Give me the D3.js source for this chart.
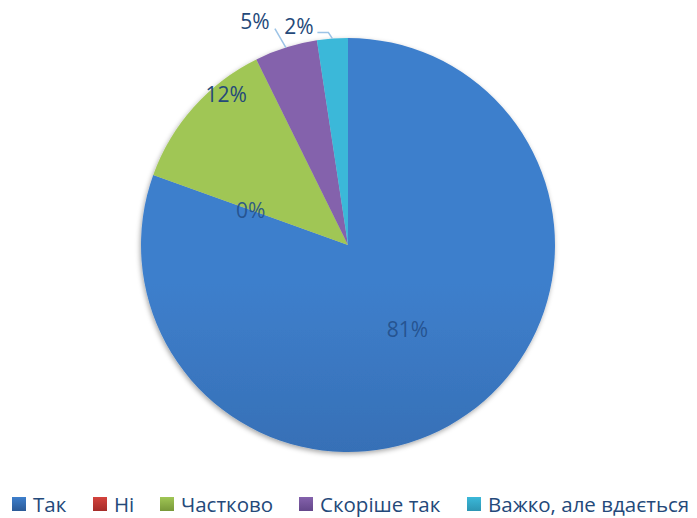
<!DOCTYPE html>
<html>
<head>
<meta charset="utf-8">
<script src="https://cdn.jsdelivr.net/npm/d3@7"></script>
<style>
  body { margin: 0; background: #fff; }
  svg { display: block; }
</style>
</head>
<body>
<div id="pie"></div>
<script>
// categories, shares and the printed labels
var categories = ["Так", "Ні", "Частково", "Скоріше так", "Важко, але вдається"];
var shares = [80.5, 0, 12.2, 4.9, 2.4];
var labels = ["81%", "0%", "12%", "5%", "2%"];

var width = 697, height = 518;
var cx = 348, cy = 245, radius = 207;

// gradient stops per slice, top -> bottom
var colors = [
    ["#3e7fcc", "#2b5a97"],
    ["#d4433d", "#a52c29"],
    ["#a0c655", "#789839"],
    ["#8462ac", "#64478a"],
    ["#3bb8d9", "#2d95b3"]
];

var svg = d3.select("#pie")
  .append("svg")
    .attr("width", width)
    .attr("height", height);

var defs = svg.append("defs");

colors.forEach(function(c, i) {
    var g = defs.append("linearGradient")
        .attr("id", "grad" + i)
        .attr("gradientUnits", "userSpaceOnUse")
        .attr("x1", 0).attr("y1", cy - radius)
        .attr("x2", 0).attr("y2", cy + radius);
    g.append("stop").attr("offset", "0%").attr("stop-color", c[0]);
    g.append("stop").attr("offset", "100%").attr("stop-color", c[1]);
    // small legend swatches
    var s = defs.append("linearGradient")
        .attr("id", "sw" + i)
        .attr("x1", 0).attr("y1", 0).attr("x2", 0).attr("y2", 1);
    s.append("stop").attr("offset", "0%").attr("stop-color", c[0]);
    s.append("stop").attr("offset", "100%").attr("stop-color", c[1]);
});

var shadow = defs.append("filter")
    .attr("id", "shadow")
    .attr("x", "-10%").attr("y", "-10%")
    .attr("width", "120%").attr("height", "120%");
shadow.append("feDropShadow")
    .attr("dx", -1).attr("dy", 2)
    .attr("stdDeviation", 2.5)
    .attr("flood-color", "#000")
    .attr("flood-opacity", 0.35);

var pie = d3.pie().sort(null).value(function(d) { return d; });
var arcs = pie(shares);

var arc = d3.arc().innerRadius(0).outerRadius(radius);

var g = svg.append("g")
    .attr("transform", "translate(" + cx + "," + cy + ")");

g.append("g")
    .attr("filter", "url(#shadow)")
  .selectAll("path")
  .data(arcs)
  .enter()
  .append("path")
    .attr("d", arc)
    .attr("fill", function(d, i) { return "url(#grad" + i + ")"; });

// label placement: polar angle (deg) and distance as a fraction of radius
function polar(angDeg, f) {
    var a = angDeg * Math.PI / 180;
    return [Math.sin(a) * radius * f, -Math.cos(a) * radius * f];
}
function midDeg(d) { return (d.startAngle + d.endAngle) / 2 * 180 / Math.PI; }

var labelPos = [
    function(d) { return arc.centroid(d); },
    function(d) { return arc.centroid(d); },
    function(d) { return polar(321, 0.935); },
    function(d) { return polar(337.4, 1.17); },
    function(d) { return polar(347.3, 1.08); }
];

// leader lines for the small slices
var lead = g.append("g")
    .attr("fill", "none")
    .attr("stroke", "#9cc3e6")
    .attr("stroke-width", 1.5);

var p3 = polar(midDeg(arcs[3]), 1.0);
lead.append("line")
    .attr("x1", p3[0] - 11).attr("y1", p3[1] - 19)
    .attr("x2", p3[0]).attr("y2", p3[1]);

var p4 = polar(midDeg(arcs[4]), 1.0);
lead.append("polyline")
    .attr("points", [[p4[0] - 15, p4[1] - 6], [p4[0] - 4, p4[1] - 6], p4].join(" "));

g.selectAll("text.lbl")
  .data(arcs)
  .enter()
  .append("text")
    .attr("class", "lbl")
    .attr("transform", function(d, i) { return "translate(" + labelPos[i](d) + ")"; })
    .attr("text-anchor", "middle")
    .attr("dy", "0.36em")
    .style("font-family", "'Open Sans', sans-serif")
    .style("font-size", "21px")
    .style("fill", function(d, i) { return i < 2 ? "#234f8a" : "#24497a"; })
    .style("fill-opacity", function(d, i) { return i < 2 ? 0.9 : 1; })
    .text(function(d, i) { return labels[i]; });

// legend
var legendX = [12, 93, 160, 299, 467];
var legend = svg.append("g")
    .attr("transform", "translate(0,497)");

var item = legend.selectAll("g")
  .data(categories)
  .enter()
  .append("g")
    .attr("transform", function(d, i) { return "translate(" + legendX[i] + ",0)"; });

item.append("rect")
    .attr("width", 14)
    .attr("height", 14)
    .attr("fill", function(d, i) { return "url(#sw" + i + ")"; });

item.append("text")
    .attr("x", 21)
    .attr("y", 14.5)
    .style("font-family", "'Open Sans', sans-serif")
    .style("font-size", "20.5px")
    .style("fill", "#24497a")
    .text(function(d) { return d; });
</script>
</body>
</html>
